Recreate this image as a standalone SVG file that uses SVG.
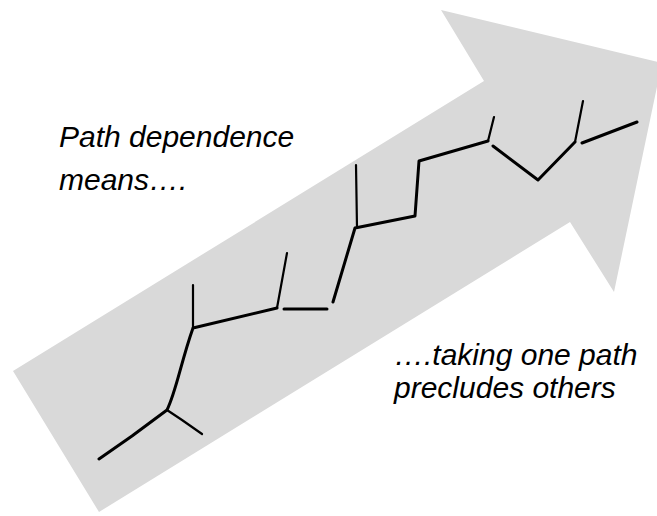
<svg xmlns="http://www.w3.org/2000/svg" width="657" height="516" viewBox="0 0 657 516">
  <style>
    .arrow { fill: #d9d9d9; stroke: none; }
    .trail { fill: none; stroke: #000; stroke-width: 3; stroke-linecap: round; stroke-linejoin: round; }
    .twig { fill: none; stroke: #000; stroke-width: 2.2; stroke-linecap: round; stroke-linejoin: round; }
    .caption { font-family: "Liberation Sans", Arial, sans-serif; font-size: 30px; font-style: italic; fill: #000; }
  </style>

  <!-- big grey arrow pointing up and to the right -->
  <g id="arrow">
    <polygon class="arrow" points="13,371 484,81 441,10 662,63 614,292 570,222 99,512"/>
  </g>

  <!-- the branching route drawn along the arrow -->
  <g id="connectors">
    <path class="trail" d="M99,459 L132,436 L167,410 C176,392 181,362 193,328 L277,308 M284,309 L327,309 M333,302 L355,228 L415,216 L419,161 L488,141 M493,146 L538,180 L575,142 M582,143 L637,122"/>
    <path class="twig" d="M167,410 L182,420 L202,434 M193,328 L193,285 M277,308 L287,253 M357,228 L356,165 M488,141 L494,117 M575,142 L583,101"/>
  </g>

  <g id="label-left">
    <text class="caption" x="59" y="147">Path dependence</text>
    <text class="caption" x="59" y="190">means….</text>
  </g>

  <g id="label-right">
    <text class="caption" x="394" y="365">….taking one path</text>
    <text class="caption" x="394" y="398">precludes others</text>
  </g>
</svg>
